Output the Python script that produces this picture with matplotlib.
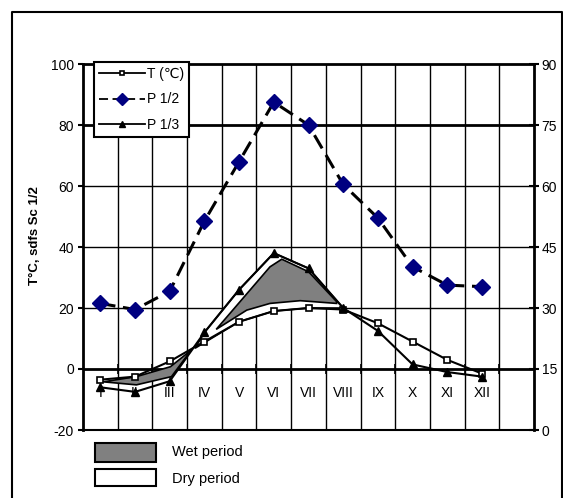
import numpy as np
import matplotlib
matplotlib.use("Agg")
import matplotlib.pyplot as plt
from matplotlib.patches import Polygon, Rectangle
from matplotlib.lines import Line2D

plt.rcParams["font.family"] = ["Liberation Sans", "DejaVu Sans"]
plt.rcParams["axes.unicode_minus"] = False

# ------------------------------------------------------------
# data (left axis units)
# ------------------------------------------------------------
months = ["I", "II", "III", "IV", "V", "VI", "VII", "VIII", "IX", "X", "XI", "XII"]
temp = [-3.5, -2.5, 2.5, 9.0, 15.5, 19.0, 20.0, 19.5, 15.0, 9.0, 3.0, -1.5]
p_half = [21.5, 19.5, 25.5, 48.5, 68.0, 87.5, 80.0, 60.5, 49.5, 33.5, 27.5, 27.0]
p_third = [-6.0, -7.5, -4.0, 12.0, 26.0, 38.0, 33.0, 20.0, 12.5, 1.5, -1.0, -2.5]

# wet period shading (summer) and winter band
wet_summer_x = [3.34, 4.89, 5.23, 6.0, 6.81, 6.81, 5.76, 4.89, 4.22]
wet_summer_y = [13.0, 33.5, 36.0, 31.9, 22.1, 21.5, 22.4, 21.5, 19.3]
wet_winter_x = [0.08, 1.04, 2.02, 2.62, 2.05, 1.04]
wet_winter_y = [-4.2, -2.5, 0.75, 6.2, -2.5, -5.2]

left_ticks = [-20, 0, 20, 40, 60, 80, 100]
right_ticks = [0, 15, 30, 45, 60, 75, 90]

n_slots = 13  # 12 months + one empty slot

W, H = 563, 498
fig = plt.figure(figsize=(W / 100, H / 100), dpi=100)
ax = fig.add_axes([83 / W, 1 - 430 / H, 451 / W, 366 / H])

x = np.arange(len(months))

# grid
bounds = np.arange(-0.5, n_slots, 1.0)
for b in bounds[1:-1]:
    ax.axvline(b, color="black", lw=1.0, zorder=1)
for t in left_ticks[1:-1]:
    ax.axhline(t, color="black", lw=2.0 if t in (0, 80) else 1.0, zorder=1)
# small ticks on the zero line
ax.plot(bounds[1:-1], np.zeros(len(bounds) - 2), ls="none", marker="|",
        ms=7, mew=1.2, color="black", zorder=2)

# shaded periods
dry = Polygon(list(zip([2.73] + list(x[3:7]) + [7.0], [6.8] + p_third[3:7] + [20.0])) +
              list(zip([7.0, 6, 5, 4, 2.73], [20.0, 20.0, 19.0, 15.5, 6.8])),
              closed=True, facecolor="white", edgecolor="black", lw=1.2, zorder=2)
ax.add_patch(dry)
ax.add_patch(Polygon(list(zip(wet_summer_x, wet_summer_y)), closed=True,
                     facecolor="#808080", edgecolor="black", lw=1.2, zorder=3))
ax.add_patch(Polygon(list(zip(wet_winter_x, wet_winter_y)), closed=True,
                     facecolor="#808080", edgecolor="black", lw=1.2, zorder=3))

# series
ax.plot(x, temp, color="black", lw=1.5, marker="s", ms=4, mfc="white",
        mec="black", mew=1.2, zorder=5, label="T (\u2103)")
ax.plot(x, p_half, color="black", lw=2.2, ls=(0, (5, 2.5)), marker="D", ms=8,
        mfc="#000080", mec="#000080", zorder=6, label="P 1/2")
ax.plot(x, p_third, color="black", lw=1.5, marker="^", ms=6, mfc="black",
        mec="black", zorder=5, label="P 1/3")

for xi, m in zip(x, months):
    ax.text(xi, -8.0, m, ha="center", va="center", fontsize=10, zorder=4)

ax.set_xlim(-0.5, n_slots - 0.5)
ax.set_ylim(-20, 100)
ax.set_xticks([])
ax.set_yticks(left_ticks)
ax.tick_params(axis="y", direction="out", length=3.5, width=1.5, labelsize=10, pad=3)
ax.set_ylabel("T\u00b0C, sdfs Sc 1/2", fontsize=9.5, fontweight="bold")
ax.yaxis.set_label_coords(-0.093, 0.53)

for side in ["left", "right", "top"]:
    ax.spines[side].set_linewidth(2.0)
ax.spines["bottom"].set_linewidth(1.5)

ax2 = ax.twinx()
ax2.set_ylim(0, 90)
ax2.set_yticks(right_ticks)
ax2.tick_params(axis="y", direction="inout", length=7, width=1.5, labelsize=10, pad=2)
for s in ax2.spines.values():
    s.set_visible(False)

leg = ax.legend(loc="upper left", bbox_to_anchor=(0.024, 1.006), borderaxespad=0,
                fontsize=10, handlelength=3.3, handletextpad=0.2, labelspacing=0.85,
                markerscale=0.75, fancybox=False, framealpha=1, edgecolor="black",
                borderpad=0.35)
leg.get_frame().set_linewidth(1.5)
for h in leg.legend_handles:
    h.set_linewidth(1.3)
leg.set_zorder(10)

# period key below the axes
fig.add_artist(Rectangle((95 / W, 1 - 462 / H), 61 / W, 19 / H, transform=fig.transFigure,
                         facecolor="#808080", edgecolor="black", lw=1.5))
fig.add_artist(Rectangle((95 / W, 1 - 486 / H), 61 / W, 17 / H, transform=fig.transFigure,
                         facecolor="white", edgecolor="black", lw=1.5))
fig.text(172 / W, 1 - 452 / H, "Wet period", fontsize=10.5, va="center", ha="left")
fig.text(172 / W, 1 - 479 / H, "Dry period", fontsize=10.5, va="center", ha="left")

# outer frame
fx0, fx1, fy1 = 12 / W, 562 / W, 1 - 12 / H
fig.add_artist(Line2D([fx0, fx0, fx1, fx1], [0, fy1, fy1, 0], transform=fig.transFigure,
                      color="black", lw=1.5))

fig.savefig("out.png", dpi=100)
